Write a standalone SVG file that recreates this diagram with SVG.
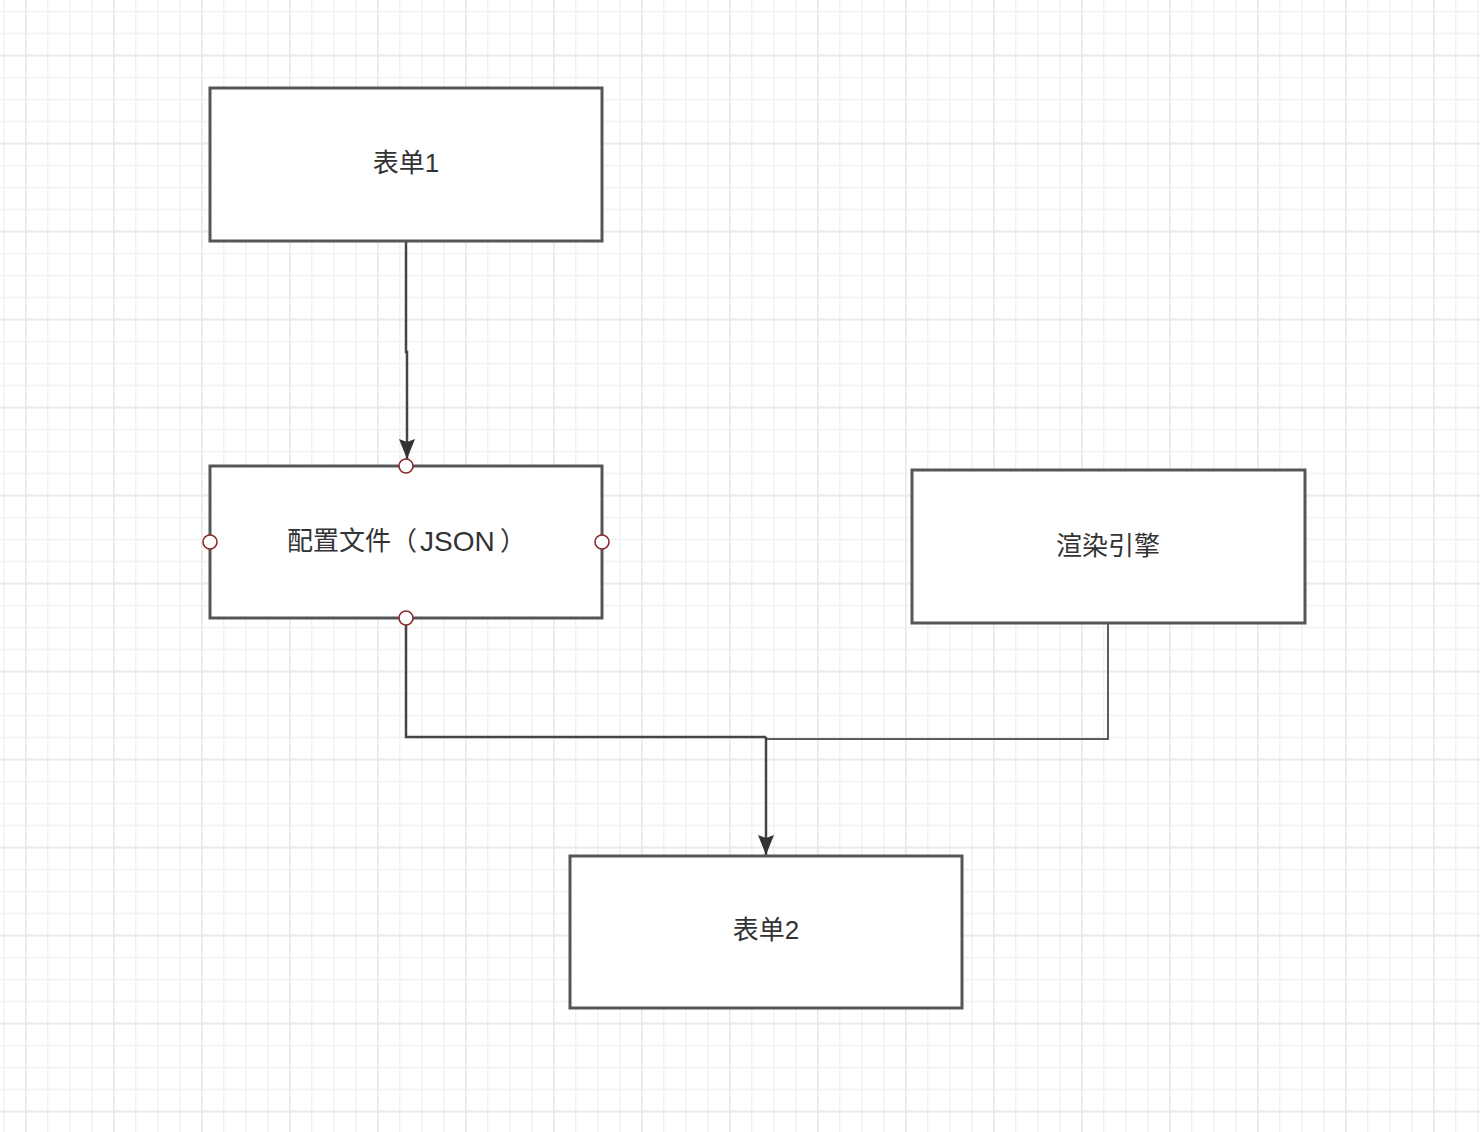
<svg xmlns="http://www.w3.org/2000/svg" width="1480" height="1132" viewBox="0 0 1480 1132">
<style>
.node rect{fill:#ffffff;stroke:#565656;stroke-width:3}
.node text{font-family:"Liberation Sans","Noto Sans CJK SC",sans-serif;font-size:26px;fill:#333333;text-anchor:middle;dominant-baseline:central}
.edge{fill:none;stroke:#444444;stroke-width:2.5}
.edge.thin{stroke:#5c5c5c;stroke-width:2}
.port{fill:#ffffff;stroke:#8a2b2b;stroke-width:1.6}
</style>
<defs>
<pattern id="minor" patternUnits="userSpaceOnUse" x="3" y="10.7" width="22" height="22">
<path d="M0,0.5 H22 M0.5,0 V22" stroke="#f1f1f4" stroke-width="2" fill="none"/>
</pattern>
<pattern id="major" patternUnits="userSpaceOnUse" x="25" y="54.7" width="88" height="88">
<path d="M0,0.5 H88 M0.5,0 V88" stroke="#e8e8ec" stroke-width="2" fill="none"/>
</pattern>
<marker id="arrow2" viewBox="0 0 20 16" refX="20" refY="8" markerUnits="userSpaceOnUse" markerWidth="20" markerHeight="16" orient="auto">
<path d="M0,0 L20,8 L0,16 L3,8 Z" fill="#333333"/>
</marker>
</defs>
<rect width="1480" height="1132" fill="#ffffff"/>
<rect width="1480" height="1132" fill="url(#minor)"/>
<rect width="1480" height="1132" fill="url(#major)"/>
<g id="connectors">
<path class="edge" d="M406,241 V352 H407 V459" marker-end="url(#arrow2)"/>
<path class="edge" d="M406,618 V737 H766"/>
<path class="edge thin" d="M1108,623 V739 H766"/>
<path class="edge" stroke-width="3" d="M766,737 V855" marker-end="url(#arrow2)"/>
</g>
<g id="form1" class="node">
<rect x="210" y="88" width="392" height="153"/>
<text x="406" y="163">表单1</text>
</g>
<g id="config" class="node">
<rect x="210" y="466" width="392" height="152"/>
<text y="541" style="text-anchor:start"><tspan x="287">配置文件</tspan><tspan x="391">（</tspan><tspan x="420" font-size="28">JSON</tspan><tspan x="500">）</tspan></text>
<circle class="port" cx="406" cy="466" r="7"/>
<circle class="port" cx="210" cy="542" r="7"/>
<circle class="port" cx="602" cy="542" r="7"/>
<circle class="port" cx="406" cy="618" r="7"/>
</g>
<g id="engine" class="node">
<rect x="912" y="470" width="393" height="153"/>
<text x="1108" y="546">渲染引擎</text>
</g>
<g id="form2" class="node">
<rect x="570" y="856" width="392" height="152"/>
<text x="766" y="930">表单2</text>
</g>
</svg>
